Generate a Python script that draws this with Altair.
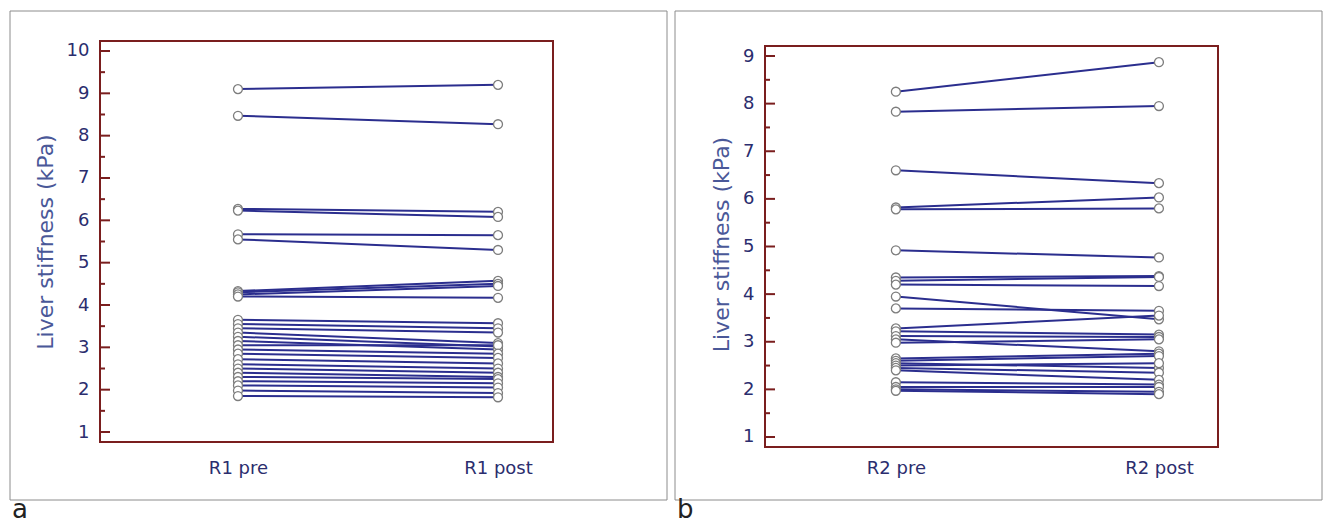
import altair as alt
import pandas as pd

# ---- data ----
r1_times = ["R1 pre", "R1 post"]
r1_pre = [9.10, 8.47, 6.27, 6.23, 5.67, 5.55, 4.33, 4.30, 4.25, 4.20,
          3.65, 3.55, 3.45, 3.35, 3.25, 3.15, 3.05, 2.95, 2.85, 2.72,
          2.60, 2.50, 2.40, 2.30, 2.20, 2.10, 1.98, 1.85]
r1_post = [9.20, 8.27, 6.20, 6.08, 5.65, 5.30, 4.57, 4.50, 4.45, 4.17,
           3.57, 3.45, 3.35, 3.10, 3.02, 2.95, 3.05, 2.85, 2.75, 2.62,
           2.50, 2.40, 2.30, 2.25, 2.15, 2.05, 1.92, 1.82]
r1_ticks = [1, 2, 3, 4, 5, 6, 7, 8, 9, 10]
r1_minor = [1.5, 2.5, 3.5, 4.5, 5.5, 6.5, 7.5, 8.5, 9.5]

r2_times = ["R2 pre", "R2 post"]
r2_pre = [8.25, 7.83, 6.60, 5.82, 5.78, 4.92, 4.35, 4.28, 4.20, 3.95,
          3.70, 3.28, 3.22, 3.12, 3.05, 2.98, 2.65, 2.60, 2.55, 2.50,
          2.45, 2.40, 2.15, 2.05, 2.00, 1.97]
r2_post = [8.87, 7.95, 6.33, 6.03, 5.80, 4.77, 4.38, 4.36, 4.17, 3.47,
           3.65, 3.55, 3.15, 3.10, 2.80, 3.05, 2.75, 2.70, 2.45, 2.55,
           2.35, 2.20, 2.10, 2.05, 1.95, 1.90]
r2_ticks = [1, 2, 3, 4, 5, 6, 7, 8, 9]
r2_minor = [1.5, 2.5, 3.5, 4.5, 5.5, 6.5, 7.5, 8.5]

LINE = "#2b2e8e"
FRAME = "#7a1e1e"
LABEL = "#2b2d6e"
TITLE = "#4a5898"
FONT = "DejaVu Sans"


def long_df(pre, post, times):
    rows = []
    for i, (a, b) in enumerate(zip(pre, post)):
        rows.append({"subject": i, "time": times[0], "value": a})
        rows.append({"subject": i, "time": times[1], "value": b})
    return pd.DataFrame(rows)


def panel(pre, post, times, ticks, minor, ydom, height, ftop, xpad, xalign,
          xlabpad, outer, letter, letter_y):
    df = long_df(pre, post, times)
    ydef = alt.Y(
        "value:Q",
        scale=alt.Scale(domain=ydom, nice=False, zero=False),
        axis=alt.Axis(values=ticks, title="Liver stiffness (kPa)", grid=False,
                      domain=False, ticks=False, tickSize=0, labelPadding=11,
                      labelFont=FONT, labelFontSize=18, labelColor=LABEL,
                      titleFont=FONT, titleFontSize=22, titleFontWeight="normal",
                      titleColor=TITLE, titlePadding=9),
    )
    xdef = alt.X(
        "time:N", sort=times,
        scale=alt.Scale(type="point", padding=xpad, align=xalign),
        axis=alt.Axis(title=None, labelAngle=0, grid=False, domain=False,
                      ticks=False, tickSize=0, labelPadding=xlabpad,
                      labelFont=FONT, labelFontSize=18, labelColor=LABEL),
    )
    one = pd.DataFrame({"k": [0]})
    box = alt.Chart(one).mark_rect(filled=False, stroke="#8c8c8c", strokeWidth=1).encode(
        x=alt.value(outer[0]), x2=alt.value(outer[1]),
        y=alt.value(outer[2]), y2=alt.value(outer[3]))
    frame = alt.Chart(one).mark_rect(filled=False, stroke=FRAME, strokeWidth=2).encode(
        x=alt.value(0), x2=alt.value(453),
        y=alt.value(ftop), y2=alt.value(ftop + 401))
    major = alt.Chart(pd.DataFrame({"value": ticks})).mark_rule(
        color=FRAME, strokeWidth=2).encode(y=ydef, x=alt.value(0), x2=alt.value(10))
    minr = alt.Chart(pd.DataFrame({"value": minor})).mark_rule(
        color=FRAME, strokeWidth=2).encode(y=ydef, x=alt.value(0), x2=alt.value(5))
    lines = alt.Chart(df).mark_line(color=LINE, strokeWidth=2).encode(
        x=xdef, y=ydef, detail="subject:N")
    pts = alt.Chart(df).mark_point(shape="circle", filled=True, fill="white",
                                   stroke="#7d7d7d", strokeWidth=1.3,
                                   size=80, opacity=1).encode(x=xdef, y=ydef)
    lab = alt.Chart(one).mark_text(text=letter, align="left", baseline="bottom",
                                   fontSize=26, font=FONT, color="#222222").encode(
        x=alt.value(-88), y=alt.value(letter_y))
    return alt.layer(box, frame, major, minr, lines, pts, lab).properties(
        width=453, height=height)


left = panel(r1_pre, r1_post, r1_times, r1_ticks, r1_minor, [0.764, 10.236],
             401, 0, 0.371, 0.715, 17, (-90, 567, -30, 459), "a", 482)
right = panel(r2_pre, r2_post, r2_times, r2_ticks, r2_minor, [0.79, 9.315],
              406, 5, 0.361, 0.689, 12, (-90, 557, -30, 459), "b", 482)

chart = alt.hconcat(left, right, spacing=6).properties(
    padding={"left": 1, "top": 2, "right": 0, "bottom": 0}
).configure_view(stroke=None, fill="white")

chart.save("out.html", embed_options={"renderer": "svg", "actions": False})
